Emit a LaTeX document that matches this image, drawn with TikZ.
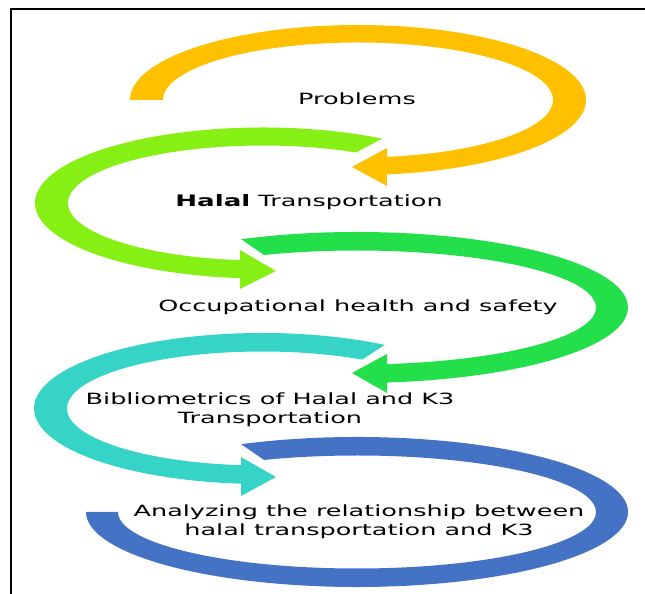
\documentclass[tikz,border=0pt]{standalone}
\usepackage{fontspec}
\setmainfont{DejaVu Sans}
\definecolor{bandyellow}{HTML}{FFC000}
\definecolor{bandlime}{HTML}{86EF13}
\definecolor{bandgreen}{HTML}{23E04A}
\definecolor{bandteal}{HTML}{35D4C6}
\definecolor{bandblue}{HTML}{4472C4}
\tikzset{
  steplabel/.style={font=\fontsize{8.8}{10.8}\selectfont, xscale=1.65, align=center, inner sep=0pt},
}

\begin{document}
\begin{tikzpicture}[x=0.02cm,y=0.02cm]
                \useasboundingbox (0,0) rectangle (645,594);

                % Drawing frame
                \draw [line width=1.2pt] (11,0) -- (11,585) -- (645,585);%

                % Drawing arrow Problems
                \fill [bandyellow] (130.00,494.00) arc [start angle=180, end angle=-82.70, x radius=228, y radius=75] -- (387.00,408.00) -- (352.00,427.00) -- (387.00,446.00) -- (387.00,437.14) arc [start angle=-81.45, end angle=180, x radius=195, y radius=57.5] -- cycle;%

                % Drawing arrow Halal Transportation
                \fill [bandlime] (382.13,455.37) arc [start angle=58.50, end angle=264.21, x radius=228, y radius=75.5] -- (240.00,305.00) -- (276.00,323.00) -- (240.00,344.00) -- (240.00,333.90) arc [start angle=263.23, end angle=61.50, x radius=195, y radius=57.5] -- cycle;%

                % Drawing arrow Occupational health and safety
                \fill [bandgreen] (241.18,354.76) arc [start angle=115.30, end angle=-83.64, x radius=271, y radius=75.5] -- (387.00,201.00) -- (352.00,221.00) -- (387.00,240.00) -- (387.00,229.95) arc [start angle=-82.79, end angle=112.90, x radius=239, y radius=57] -- cycle;%

                % Drawing arrow Bibliometrics
                \fill [bandteal] (384.84,249.11) arc [start angle=57.40, end angle=264.72, x radius=228, y radius=75.5] -- (241.00,98.00) -- (276.00,117.00) -- (241.00,137.00) -- (241.00,128.83) arc [start angle=263.82, end angle=59.10, x radius=195, y radius=57] -- cycle;%

                % Drawing band Analyzing
                \fill [bandblue] (241.18,149.81) arc [start angle=115.30, end angle=-180, x radius=271, y radius=75] -- (118.00,82.00) arc [start angle=-180, end angle=112.90, x radius=239, y radius=56.5] -- cycle;%

                % Marking labels
                \node [steplabel] (problems) at (357,495) {Problems};%
                \node [steplabel] (halal) at (309,392) {{\fontsize{9}{11}\selectfont\bfseries Halal} Transportation};%
                \node [steplabel] (ohs) at (358,287) {Occupational health and safety};%
                \node [steplabel] (biblio) at (270,184) {Bibliometrics of Halal and K3\\Transportation};%
                \node [steplabel] (analyze) at (359,72.5) {Analyzing the relationship between\\halal transportation and K3};%
\end{tikzpicture}
\end{document}
